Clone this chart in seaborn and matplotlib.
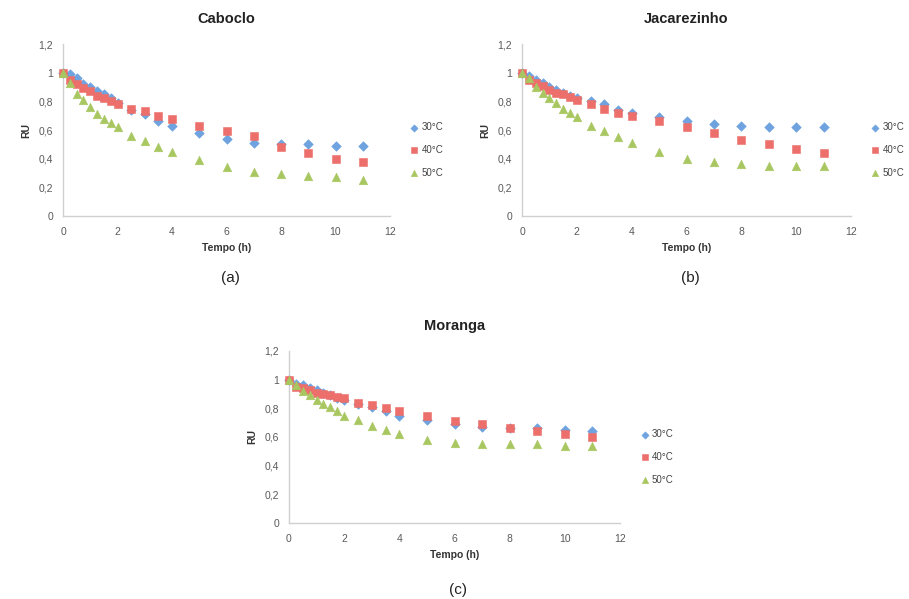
import pandas as pd
import matplotlib
matplotlib.use("Agg")
import matplotlib.pyplot as plt
from matplotlib.ticker import FuncFormatter, MultipleLocator
import seaborn as sns

# tempo de secagem (h)
tempo = [0, 0.25, 0.5, 0.75, 1, 1.25, 1.5, 1.75, 2, 2.5, 3, 3.5, 4, 5, 6, 7, 8, 9, 10, 11]

caboclo_30 = [1, 0.99, 0.96, 0.92, 0.90, 0.87, 0.85, 0.82, 0.79, 0.74, 0.71, 0.66, 0.63, 0.58, 0.54, 0.51, 0.50, 0.50, 0.49, 0.49]
caboclo_40 = [1, 0.95, 0.92, 0.89, 0.87, 0.84, 0.82, 0.80, 0.78, 0.75, 0.73, 0.70, 0.68, 0.63, 0.59, 0.56, 0.48, 0.44, 0.40, 0.38]
caboclo_50 = [1, 0.93, 0.85, 0.81, 0.76, 0.71, 0.68, 0.65, 0.62, 0.56, 0.52, 0.48, 0.45, 0.39, 0.34, 0.31, 0.29, 0.28, 0.27, 0.25]

jacarezinho_30 = [1, 0.98, 0.95, 0.93, 0.90, 0.88, 0.86, 0.84, 0.82, 0.80, 0.78, 0.74, 0.72, 0.69, 0.66, 0.64, 0.63, 0.62, 0.62, 0.62]
jacarezinho_40 = [1, 0.95, 0.93, 0.91, 0.88, 0.86, 0.85, 0.83, 0.81, 0.78, 0.75, 0.72, 0.70, 0.66, 0.62, 0.58, 0.53, 0.50, 0.47, 0.44]
jacarezinho_50 = [1, 0.96, 0.90, 0.86, 0.82, 0.79, 0.75, 0.72, 0.69, 0.63, 0.59, 0.55, 0.51, 0.45, 0.40, 0.38, 0.36, 0.35, 0.35, 0.35]

moranga_30 = [1, 0.97, 0.96, 0.94, 0.93, 0.91, 0.89, 0.87, 0.86, 0.83, 0.81, 0.78, 0.75, 0.72, 0.69, 0.67, 0.66, 0.66, 0.65, 0.64]
moranga_40 = [1, 0.95, 0.94, 0.93, 0.91, 0.90, 0.89, 0.88, 0.87, 0.84, 0.82, 0.80, 0.78, 0.75, 0.71, 0.69, 0.66, 0.64, 0.62, 0.60]
moranga_50 = [1, 0.96, 0.92, 0.89, 0.86, 0.83, 0.81, 0.78, 0.75, 0.72, 0.68, 0.65, 0.62, 0.58, 0.56, 0.55, 0.55, 0.55, 0.54, 0.54]

temperaturas = ["30°C", "40°C", "50°C"]
paineis = [
    ("Caboclo", "(a)", [caboclo_30, caboclo_40, caboclo_50]),
    ("Jacarezinho", "(b)", [jacarezinho_30, jacarezinho_40, jacarezinho_50]),
    ("Moranga", "(c)", [moranga_30, moranga_40, moranga_50]),
]

cores = {"30°C": "#6fa3e0", "40°C": "#ec6f6b", "50°C": "#a9c761"}
marcadores = {"30°C": "D", "40°C": "s", "50°C": "^"}
tamanhos = {"30°C": 24, "40°C": 38, "50°C": 38}

sns.set_style("white")
plt.rcParams["font.family"] = ["Liberation Sans", "DejaVu Sans"]

W, H = 909, 599
fig = plt.figure(figsize=(W / 100, H / 100), dpi=100)

# caixas dos eixos em pixels: (x0, x12, y0, y1.2, y do rótulo da letra)
caixas = [(63, 390, 216, 44, 278), (522, 851, 216, 44, 278), (289, 620, 523, 351, 590)]


def virgula(v, pos):
    return f"{v:g}".replace(".", ",")


for (nome, letra, series), (x0, x1, yb, yt, yl) in zip(paineis, caixas):
    ax = fig.add_axes([x0 / W, 1 - yb / H, (x1 - x0) / W, (yb - yt) / H])
    df = pd.DataFrame({
        "Tempo": tempo * 3,
        "RU": series[0] + series[1] + series[2],
        "Temp": [t for t in temperaturas for _ in tempo],
    })
    for t in temperaturas:
        sub = df[df["Temp"] == t]
        sns.scatterplot(data=sub, x="Tempo", y="RU", ax=ax, color=cores[t],
                        marker=marcadores[t], s=tamanhos[t], linewidth=0.4,
                        edgecolor=cores[t], label=t, zorder=3, clip_on=False)
    ax.set_xlim(0, 12)
    ax.set_ylim(0, 1.2)
    ax.xaxis.set_major_locator(MultipleLocator(2))
    ax.yaxis.set_major_locator(MultipleLocator(0.2))
    ax.yaxis.set_major_formatter(FuncFormatter(virgula))
    ax.tick_params(axis="y", labelsize=7.5, colors="#595959", length=0, pad=7)
    ax.tick_params(axis="x", labelsize=7.5, colors="#595959", length=0, pad=8)
    for lado in ["top", "right"]:
        ax.spines[lado].set_visible(False)
    for lado in ["left", "bottom"]:
        ax.spines[lado].set_color("#d0d0d0")
        ax.spines[lado].set_linewidth(1.0)
    ax.set_xlabel("Tempo (h)", fontsize=7.5, fontweight="bold", color="#333333", labelpad=4)
    ax.set_ylabel("RU", fontsize=7.5, fontweight="bold", color="#333333", labelpad=5)
    ax.set_title(nome, fontsize=10.5, fontweight="bold", color="#222222", pad=15)
    leg = ax.legend(loc="center left", bbox_to_anchor=(1.03, 0.5 - 20 / (yb - yt)),
                    frameon=False, fontsize=7, handletextpad=0.15, labelspacing=1.3,
                    markerscale=0.75, handlelength=1.2)
    for txt in leg.get_texts():
        txt.set_color("#444444")
    cx = (x0 + x1) / 2 / W
    fig.text(cx + 4 / W, 1 - yl / H, letra, ha="center", va="center", fontsize=11, color="#222222")

fig.savefig("out.png", dpi=100)
